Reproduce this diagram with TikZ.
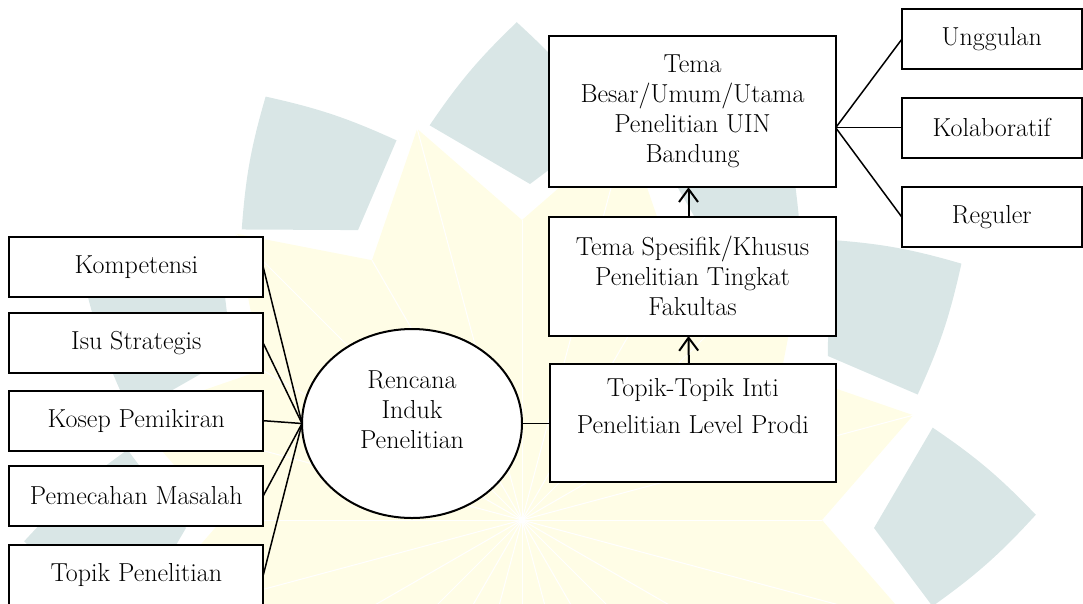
\documentclass[tikz,border=0pt]{standalone}
\usepackage{fontspec}
\usetikzlibrary{arrows.meta,shapes.geometric}
\definecolor{logoteal}{RGB}{217,230,230}
\definecolor{logoyellow}{RGB}{255,253,230}
\begin{document}
\begin{tikzpicture}[x=1pt,y=-1pt,
  every node/.style={font=\fontsize{26}{30}\selectfont, inner sep=0pt, outer sep=0pt},
  box/.style={draw=black, line width=2pt, fill=white, anchor=north west, align=center},
  leftbox/.style={box, minimum width=254pt, minimum height=60pt},
  sidebox/.style={box, minimum width=179.5pt, minimum height=60pt},
  link/.style={draw=black, line width=1.5pt},
  uparrow/.style={draw=black, line width=2pt, -{Straight Barb[length=13pt,width=19pt]}},
]
\useasboundingbox (0,0) rectangle (1083,603);
\clip (0,0) rectangle (1083,603);

% background emblem: pale twelve-pointed star
\fill[logoyellow] ({522+405*cos(15)},{520-405*sin(15)})
  \foreach \k in {1,...,11} {
    -- ({522+300*cos(30*\k)},{520-300*sin(30*\k)})
    -- ({522+405*cos(30*\k+15)},{520-405*sin(30*\k+15)})
  } -- ({522+300},{520}) -- cycle;
\foreach \k in {0,...,11} {
  \draw[white, line width=1pt] (522,520) -- ({522+405*cos(30*\k+15)},{520-405*sin(30*\k+15)});
  \draw[white, line width=1pt] (522,520) -- ({522+300*cos(30*\k)},{520-300*sin(30*\k)});
}
% ring of pale teal blades with slightly rounded outer edges
\foreach \t in {0,30,...,180} {
  \fill[logoteal] ({530+415*cos(\t+14)},{528-415*sin(\t+14)})
    to[bend left=6] ({530+506*cos(\t+1.5)},{528-506*sin(\t+1.5)})
    to[bend left=6] ({530+410*cos(\t-11)},{528-410*sin(\t-11)})
    -- ({530+344*cos(\t)},{528-344*sin(\t)}) -- cycle;
}

% left column
\node[leftbox] (komp) at (9.3,237.3) {Kompetensi};
\node[leftbox] (isu) at (9.3,313.3) {Isu Strategis};
\node[leftbox] (kosep) at (9.3,390.7) {Kosep Pemikiran};
\node[leftbox] (masalah) at (9.3,465.7) {Pemecahan Masalah};
\node[leftbox] (topik) at (9.3,545) {Topik Penelitian};

% central ellipse
\node[draw=black, ellipse, line width=2pt, fill=white, minimum width=220pt, minimum height=189pt] (rip) at (412,423.5) {};
\node[align=center] (riptext) at (412,410) {Rencana\\Induk\\Penelitian};

% middle column
\node[box, minimum width=286.4pt, minimum height=151.3pt] (tema) at (549.3,36) {Tema\\Besar/Umum/Utama\\Penelitian UIN\\Bandung};
\node[box, minimum width=286.4pt, minimum height=119.3pt] (spes) at (549.3,216.7) {Tema Spesifik/Khusus\\Penelitian Tingkat\\Fakultas};
\node[box, minimum width=285.7pt, minimum height=118.3pt] (prodi) at (550,364) {};
\node[align=center] (proditext) at (692.9,406.5) {Topik-Topik Inti\\[7pt]Penelitian Level Prodi};

% right column
\node[sidebox] (ungg) at (902,9) {Unggulan};
\node[sidebox] (kolab) at (902,97.7) {Kolaboratif};
\node[sidebox] (reg) at (902,187.3) {Reguler};

% connectors
\foreach \n in {komp,isu,kosep,masalah,topik}
  \draw[link] (\n.east) -- (rip.west);
\draw[link] (rip.east) -- (rip.east -| prodi.west);
\coordinate (fan) at (tema.east |- kolab.west);
\foreach \n in {ungg,kolab,reg}
  \draw[link] (fan) -- (\n.west);
\draw[uparrow] ([xshift=-4pt]prodi.north) -- ([xshift=-4pt]spes.south);
\draw[uparrow] ([xshift=-4pt]spes.north) -- ([xshift=-4pt]tema.south);
\end{tikzpicture}
\end{document}
